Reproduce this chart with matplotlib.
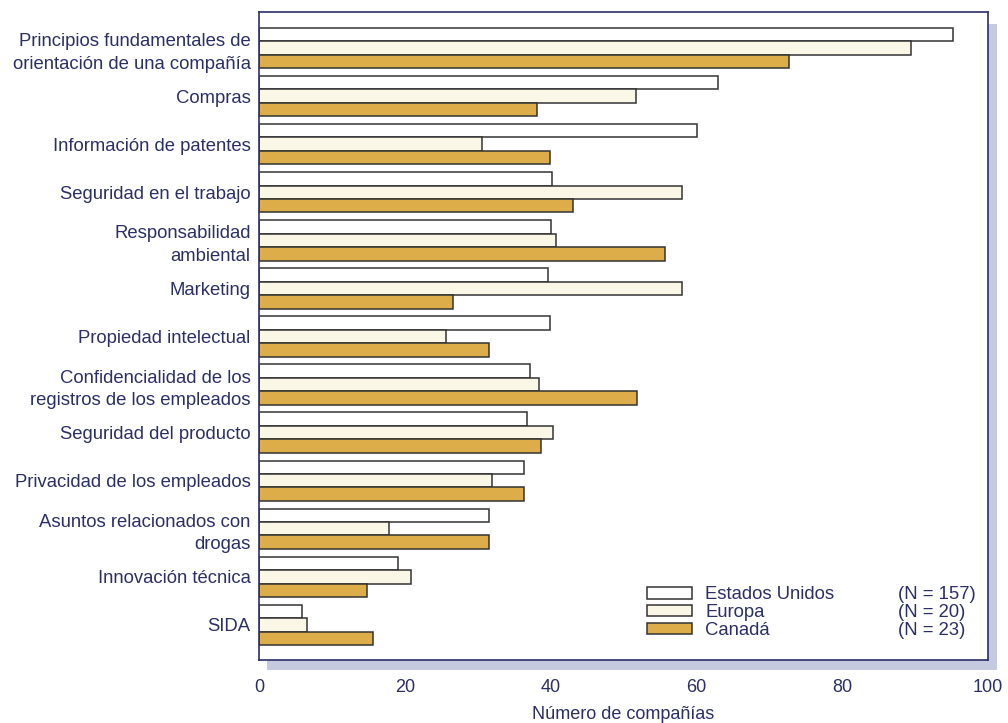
import matplotlib

matplotlib.use("Agg")
import matplotlib.pyplot as plt
import numpy as np
from matplotlib.patches import Rectangle, Patch

categories = [
    "Principios fundamentales de\norientación de una compañía",
    "Compras",
    "Información de patentes",
    "Seguridad en el trabajo",
    "Responsabilidad\nambiental",
    "Marketing",
    "Propiedad intelectual",
    "Confidencialidad de los\nregistros de los empleados",
    "Seguridad del producto",
    "Privacidad de los empleados",
    "Asuntos relacionados con\ndrogas",
    "Innovación técnica",
    "SIDA",
]
estados_unidos = [95.2, 63.0, 60.1, 40.2, 40.1, 39.7, 39.9, 37.2, 36.7, 36.4, 31.6, 19.1, 5.9]
europa = [89.4, 51.7, 30.6, 58.0, 40.7, 58.0, 25.7, 38.4, 40.3, 31.9, 17.9, 20.8, 6.6]
canada = [72.7, 38.1, 39.9, 43.1, 55.7, 26.6, 31.6, 51.9, 38.7, 36.4, 31.5, 14.8, 15.6]
series = ["Estados Unidos", "Europa", "Canadá"]
n_labels = ["(N = 157)", "(N = 20)", "(N = 23)"]
xticks = [0, 20, 40, 60, 80, 100]

NAVY = "#2b2f66"
EDGE = "#333333"
FILLS = ["#ffffff", "#fbf7e6", "#dcad48"]

plt.rcParams["font.family"] = ["Liberation Sans", "DejaVu Sans"]

W, H = 1008, 723
fig = plt.figure(figsize=(W / 100, H / 100), dpi=100)
ax = fig.add_axes([259 / W, 1 - 660 / H, (988 - 259) / W, (660 - 12) / H])

# drop shadow behind the frame
fig.patches.append(Rectangle((267 / W, 1 - 670 / H), (997 - 267) / W, (670 - 24) / H,
                             transform=fig.transFigure, fc="#c5cadf", ec="none", zorder=0))
ax.set_zorder(1)

y = np.arange(len(categories))
h = 0.28
for i, (vals, name) in enumerate(zip([estados_unidos, europa, canada], series)):
    ax.barh(y + (i - 1) * h, vals, height=h, color=FILLS[i], edgecolor=EDGE, linewidth=1.1, label=name)

ax.set_xlim(0, 100)
ax.set_ylim(len(categories) - 0.27, -0.75)
ax.set_yticks(y)
ax.set_yticklabels(categories, fontsize=13.3, color=NAVY, linespacing=1.42)
ax.set_xticks(xticks)
ax.set_xticklabels([str(t) for t in xticks], fontsize=13, color=NAVY)
ax.tick_params(axis="both", length=0)
ax.tick_params(axis="x", pad=13.5)
ax.tick_params(axis="y", pad=6)
ax.set_xlabel("Número de compañías", fontsize=13, color=NAVY, labelpad=7.5)
for sp in ax.spines.values():
    sp.set_color(NAVY)
    sp.set_linewidth(1.2)

handles = [Patch(facecolor=FILLS[i], edgecolor=EDGE, linewidth=1.1) for i in range(3)]
leg = ax.legend(handles, series, loc="lower left", bbox_to_anchor=(0.522, 0.021), frameon=False,
                prop={"size": 13.3}, handlelength=2.45, handleheight=0.6,
                labelspacing=0.05, handletextpad=0.7, borderaxespad=0)
for t in leg.get_texts():
    t.set_color(NAVY)

# sample sizes in a second column, lined up with the legend rows
fig.canvas.draw()
inv = ax.transAxes.inverted()
for t, txt in zip(leg.get_texts(), n_labels):
    bb = t.get_window_extent()
    yc = inv.transform((0, (bb.y0 + bb.y1) / 2))[1]
    ax.text(0.876, yc, txt, transform=ax.transAxes, fontsize=13.3, color=NAVY, va="center", ha="left")

fig.savefig("out.png", dpi=100)
